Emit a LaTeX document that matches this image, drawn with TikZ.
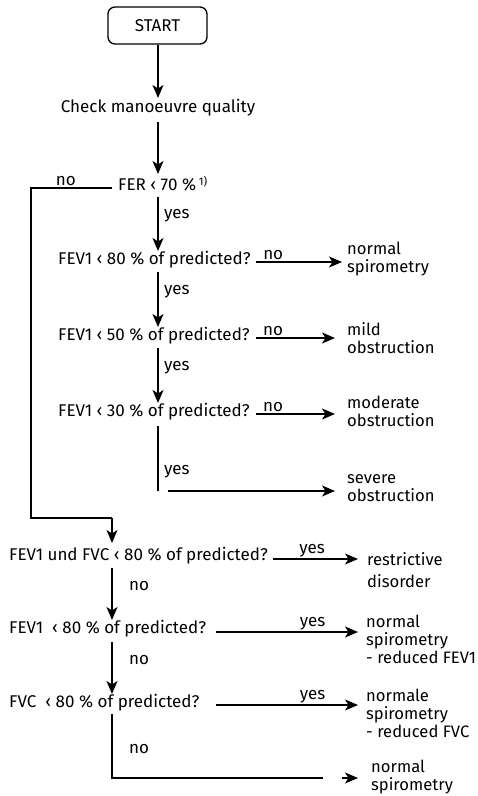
\documentclass[tikz,border=0pt]{standalone}
\usepackage{fontspec}
\setmainfont{Fira Sans}
\usetikzlibrary{arrows.meta}
\begin{document}
\begin{tikzpicture}[x=1pt,y=-1pt,
  every node/.style={font=\fontsize{17}{18}\selectfont, inner sep=1.5pt},
  arr/.style={line width=1.3pt, -{Stealth[length=13pt,width=11pt,inset=3.5pt]}},
  ln/.style={line width=1.3pt},
  lbl/.style={font=\fontsize{17}{18}\selectfont},
  res/.style={align=left, anchor=west, inner sep=0pt, font=\fontsize{16.6}{18}\selectfont},
  startbox/.style={draw, line width=1.3pt, rounded corners=7pt, minimum width=99pt, minimum height=37pt}]
\useasboundingbox (0,0) rectangle (478,796);
% nodes
\node[startbox] (start) at (157.5,25.5) {START};
\node[anchor=mid] (check) at (158,110) {Check manoeuvre quality};
\node[anchor=mid west, inner sep=0pt] (fer) at (118,188) {FER ‹ 70 \%\,\raisebox{0.6ex}{\fontsize{11}{12}\selectfont 1)}};
\node[anchor=mid west, inner sep=0pt] (q1) at (58,262) {FEV1 ‹ 80 \% of predicted?};
\node[anchor=mid west, inner sep=0pt] (q2) at (58,338) {FEV1 ‹ 50 \% of predicted?};
\node[anchor=mid west, inner sep=0pt] (q3) at (58,414) {FEV1 ‹ 30 \% of predicted?};
\node[anchor=mid west, inner sep=0pt] (q4) at (9,558) {FEV1 und FVC ‹ 80 \% of predicted?};
\node[anchor=mid west, inner sep=0pt] (q5) at (9,631) {FEV1 \ ‹ 80 \% of predicted?};
\node[anchor=mid west, inner sep=0pt] (q6) at (9,705) {FVC \ ‹ 80 \% of predicted?};
\node[res] (r1) at (347,259) {normal\\spirometry};
\node[res] (r2) at (347,338) {mild\\obstruction};
\node[res] (r3) at (347,411) {moderate\\obstruction};
\node[res] (r4) at (347,488) {severe\\obstruction};
\node[res] (r5) at (367,570) {restrictive\\[4pt]disorder};
\node[res] (r6) at (366,639) {normal\\spirometry\\- reduced FEV1};
\node[res] (r7) at (366,713) {normale\\spirometry\\- reduced FVC};
\node[res] (r8) at (371,777) {normal\\spirometry};
% coordinates
\coordinate (a2) at (158,98);
\coordinate (b1) at (158,122);
\coordinate (b2) at (158,174);
\coordinate (c1) at (158,197);
\coordinate (c2) at (158,251);
\coordinate (d1) at (158,272);
\coordinate (d2) at (158,327);
\coordinate (e1) at (158,348);
\coordinate (e2) at (158,403);
\coordinate (f1) at (158,426);
\coordinate (f2) at (158,491);
\coordinate (g1) at (168,491);
\coordinate (g2) at (335,491);
\coordinate (h1) at (112,188);
\coordinate (h2) at (31,188);
\coordinate (h3) at (31,518);
\coordinate (h4) at (112,518);
\coordinate (h5) at (112,543);
\coordinate (i1) at (112,568);
\coordinate (i2) at (112,620);
\coordinate (j1) at (112,642);
\coordinate (j2) at (112,694);
\coordinate (k1) at (112,714);
\coordinate (k2) at (112,778);
\coordinate (k3) at (323,778);
\coordinate (k4) at (342,778);
\coordinate (k5) at (358,778);
\coordinate (y1) at (256,262);
\coordinate (y1e) at (342,262);
\coordinate (y2) at (256,338);
\coordinate (y2e) at (335,338);
\coordinate (y3) at (256,414);
\coordinate (y3e) at (335,414);
\coordinate (y4) at (273,559);
\coordinate (y4e) at (358,559);
\coordinate (y5) at (216,632);
\coordinate (y5e) at (358,632);
\coordinate (y6) at (216,705);
\coordinate (y6e) at (358,705);
% connectors
\draw[arr] (start.south -| a2) -- (a2);
\draw[arr] (b1) -- (b2);
\draw[arr] (c1) -- node[lbl, right, pos=0.35, xshift=4pt] {yes} (c2);
\draw[arr] (y1) -- node[lbl, above, pos=0.2] {no} (y1e);
\draw[arr] (d1) -- node[lbl, right, pos=0.35, xshift=4pt] {yes} (d2);
\draw[arr] (y2) -- node[lbl, above, pos=0.215] {no} (y2e);
\draw[arr] (e1) -- node[lbl, right, pos=0.35, xshift=4pt] {yes} (e2);
\draw[arr] (y3) -- node[lbl, above, pos=0.215] {no} (y3e);
\draw[ln] (f1) -- node[lbl, right, pos=0.7, xshift=4pt] {yes} (f2);
\draw[arr] (g1) -- (g2);
\draw[ln] (h1) -- node[lbl, above, pos=0.57] {no} (h2) -- (h3) -- (h4);
\draw[arr] (h4) -- (h5);
\draw[arr] (y4) -- node[lbl, above, pos=0.46] {yes} (y4e);
\draw[arr] (i1) -- node[lbl, right, pos=0.35, xshift=15pt] {no} (i2);
\draw[arr] (y5) -- node[lbl, above, pos=0.68] {yes} (y5e);
\draw[arr] (j1) -- node[lbl, right, pos=0.35, xshift=15pt] {no} (j2);
\draw[arr] (y6) -- node[lbl, above, pos=0.68] {yes} (y6e);
\draw[ln] (k1) -- node[lbl, right, pos=0.55, xshift=15pt] {no} (k2) -- (k3);
\draw[arr] (k4) -- (k5);
\end{tikzpicture}
\end{document}
